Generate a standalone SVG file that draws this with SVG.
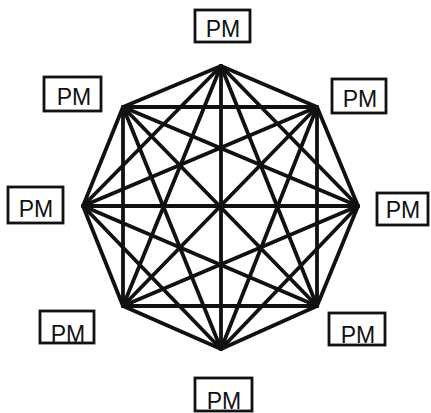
<svg xmlns="http://www.w3.org/2000/svg" width="431" height="413" viewBox="0 0 431 413">
<style>
.e{stroke:#111;stroke-width:3.8;stroke-linecap:round;fill:none}
.b{fill:#fff;stroke:#111;stroke-width:2.8}
.t{font-family:"Liberation Sans",Arial,sans-serif;font-size:23px;fill:#111;text-anchor:middle}
</style>
<rect width="431" height="413" fill="#fff"/>
<g id="connectors" class="e">
<line x1="221" y1="66" x2="317" y2="107"/>
<line x1="221" y1="66" x2="358" y2="206"/>
<line x1="221" y1="66" x2="317" y2="306"/>
<line x1="221" y1="66" x2="221" y2="349"/>
<line x1="221" y1="66" x2="123" y2="306"/>
<line x1="221" y1="66" x2="83" y2="206"/>
<line x1="221" y1="66" x2="123" y2="107"/>
<line x1="317" y1="107" x2="358" y2="206"/>
<line x1="317" y1="107" x2="317" y2="306"/>
<line x1="317" y1="107" x2="221" y2="349"/>
<line x1="317" y1="107" x2="123" y2="306"/>
<line x1="317" y1="107" x2="83" y2="206"/>
<line x1="317" y1="107" x2="123" y2="107"/>
<line x1="358" y1="206" x2="317" y2="306"/>
<line x1="358" y1="206" x2="221" y2="349"/>
<line x1="358" y1="206" x2="123" y2="306"/>
<line x1="358" y1="206" x2="83" y2="206"/>
<line x1="358" y1="206" x2="123" y2="107"/>
<line x1="317" y1="306" x2="221" y2="349"/>
<line x1="317" y1="306" x2="123" y2="306"/>
<line x1="317" y1="306" x2="83" y2="206"/>
<line x1="317" y1="306" x2="123" y2="107"/>
<line x1="221" y1="349" x2="123" y2="306"/>
<line x1="221" y1="349" x2="83" y2="206"/>
<line x1="221" y1="349" x2="123" y2="107"/>
<line x1="123" y1="306" x2="83" y2="206"/>
<line x1="123" y1="306" x2="123" y2="107"/>
<line x1="83" y1="206" x2="123" y2="107"/>
</g>
<g id="pm-top"><rect class="b" x="195" y="10" width="55" height="32"/><text class="t" x="223" y="37">PM</text></g>
<g id="pm-topright"><rect class="b" x="332" y="79" width="54" height="34"/><text class="t" x="360" y="107">PM</text></g>
<g id="pm-right"><rect class="b" x="377" y="193" width="51" height="32"/><text class="t" x="403" y="218">PM</text></g>
<g id="pm-bottomright"><rect class="b" x="329" y="313" width="56" height="32"/><text class="t" x="358" y="343">PM</text></g>
<g id="pm-bottom"><rect class="b" x="195" y="378" width="57" height="33"/><text class="t" x="224" y="409">PM</text></g>
<g id="pm-bottomleft"><rect class="b" x="40" y="311" width="54" height="32"/><text class="t" x="68" y="342">PM</text></g>
<g id="pm-left"><rect class="b" x="8" y="187" width="55" height="36"/><text class="t" x="36" y="217">PM</text></g>
<g id="pm-topleft"><rect class="b" x="44" y="77" width="57" height="34"/><text class="t" x="74" y="105">PM</text></g>
</svg>
